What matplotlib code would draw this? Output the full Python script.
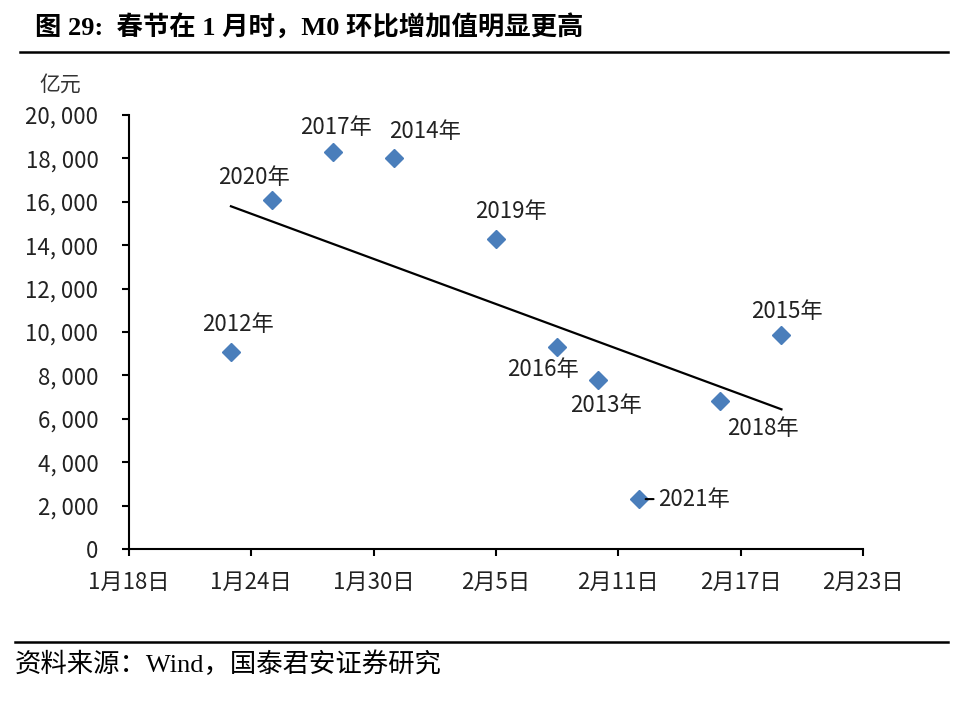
import datetime as dt
import numpy as np
import matplotlib
matplotlib.use('Agg')
import matplotlib.pyplot as plt

plt.rcParams['font.family'] = ['Noto Sans CJK SC', 'DejaVu Sans']

# spring festival date and M0 month-on-month increase (亿元)
years = ['2012年', '2020年', '2017年', '2014年', '2019年',
         '2016年', '2013年', '2021年', '2018年', '2015年']
dates = ['01-23', '01-25', '01-28', '01-31', '02-05',
         '02-08', '02-10', '02-12', '02-16', '02-19']
m0_inc = [9100, 16100, 18300, 18000, 14300, 9300, 7800, 2300, 6800, 9850]

xtick_dates = ['01-18', '01-24', '01-30', '02-05', '02-11', '02-17', '02-23']
xtick_labels = ['1月18日', '1月24日', '1月30日', '2月5日', '2月11日', '2月17日', '2月23日']
yticks = [0, 2000, 4000, 6000, 8000, 10000, 12000, 14000, 16000, 18000, 20000]

# label offsets (pixels) relative to each point
offsets = [(7, 27), (-18, 22), (3, 24), (31, 27), (15, 27),
           (-14, -22), (8, -26), (19, 0), (43, -27), (5, 24)]


def day_num(s):
    d = dt.date(2000, int(s[:2]), int(s[3:]))
    return (d - dt.date(2000, 1, 1)).days


x = np.array([day_num(s) for s in dates])
y = np.array(m0_inc)
xt = [day_num(s) for s in xtick_dates]

fig = plt.figure(figsize=(9.68, 7.06), dpi=100)
ax = fig.add_axes([129 / 968, 1 - 549 / 706, 734 / 968, 434 / 706])

ax.plot(x, y, linestyle='none', marker='D', markersize=9.5,
        color='#4A7EBB', zorder=3)

# linear trend
k, b = np.polyfit(x, y, 1)
xs = np.array([x.min(), x.max()])
ax.plot(xs, k * xs + b, color='black', lw=1.6, zorder=2)

for xi, yi, name, off in zip(x, y, years, offsets):
    if name == '2021年':
        ax.annotate(name, (xi, yi), xytext=off, textcoords='offset pixels',
                    ha='left', va='center', fontsize=16, color='#222222',
                    arrowprops=dict(arrowstyle='-', color='black', lw=1.5,
                                    shrinkA=1, shrinkB=5))
    else:
        ax.annotate(name, (xi, yi), xytext=off, textcoords='offset pixels',
                    ha='center', va='center', fontsize=16, color='#222222')

ax.set_xlim(xt[0], xt[-1])
ax.set_ylim(0, 20000)
ax.set_xticks(xt)
ax.set_xticklabels(xtick_labels)
ax.set_yticks(yticks)
ax.set_yticklabels(['{:,}'.format(v).replace(',', ', ') for v in yticks])

for s in ['top', 'right']:
    ax.spines[s].set_visible(False)
for s in ['left', 'bottom']:
    ax.spines[s].set_linewidth(1.5)
ax.tick_params(axis='both', direction='out', length=5, width=1.5,
               labelsize=16, colors='black', labelcolor='#222222')
ax.tick_params(axis='x', pad=11)
ax.tick_params(axis='y', pad=17)

fig.text(60 / 968, 1 - 85 / 706, '亿元', ha='center', va='center',
         fontsize=15, color='#333333')

fig.text(35 / 968, 1 - 27 / 706, '图 29:  春节在 1 月时，M0 环比增加值明显更高',
         ha='left', va='center', fontsize=19, fontweight='bold',
         family=['Liberation Serif', 'Noto Sans CJK SC'])
fig.add_artist(plt.Line2D([20 / 968, 948 / 968], [1 - 52 / 706] * 2,
                          color='black', lw=1.8))
fig.add_artist(plt.Line2D([15 / 968, 948 / 968], [1 - 642 / 706] * 2,
                          color='black', lw=1.8))
fig.text(15 / 968, 1 - 664 / 706, '资料来源：Wind，国泰君安证券研究',
         ha='left', va='center', fontsize=19,
         family=['Liberation Serif', 'Noto Sans CJK SC'])

fig.savefig('out.png', dpi=100)
